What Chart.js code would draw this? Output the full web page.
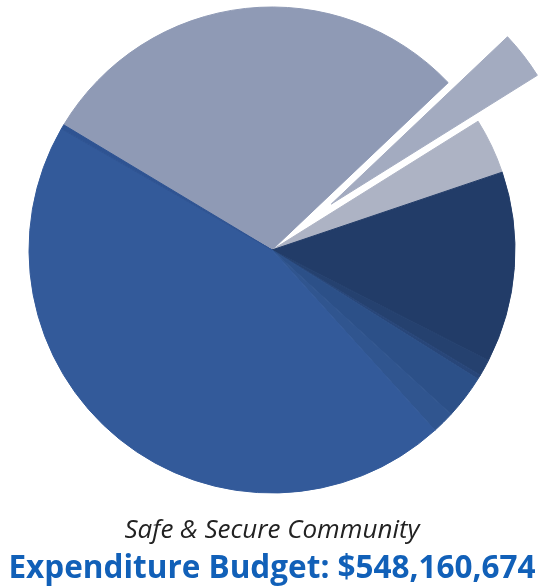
<!DOCTYPE html>
<html>
<head>
<meta charset="utf-8">
<script src="https://cdn.jsdelivr.net/npm/chart.js@4"></script>
<style>
html,body{margin:0;padding:0;background:#fff;}
#wrap{width:544px;height:586px;position:relative;}
</style>
</head>
<body>
<div id="wrap"><canvas id="c"></canvas></div>
<script>
// Slice shares (percent of budget), clockwise starting at the upper-left edge
const categories = ["Category A","Category B","Category C","Category D","Category E","Category F","Category G","Category H","Category I","Category J"];
const shares = [29.3, 3.2, 3.7, 12.7, 1.1, 0.3, 2.9, 1.5, 45.0, 0.3];
const sliceColors = ["#8f9ab5","#a3abc0","#adb3c4","#223c68","#25416f","#284679","#2c5088","#30558f","#335a9a","#2e5392"];
const subtitleText = "Safe & Secure Community";
const titleText = "Expenditure Budget: $548,160,674";

// Pulls one slice out of the pie along its own mid-angle
const explodePlugin = {
  id: 'explodeSlice',
  afterDatasetUpdate(chart, args, opts) {
    const meta = chart.getDatasetMeta(args.index);
    const arc = meta.data[opts.index];
    if (!arc) return;
    const mid = (arc.startAngle + arc.endAngle) / 2;
    arc.x += Math.cos(mid) * opts.distance;
    arc.y += Math.sin(mid) * opts.distance;
  }
};

new Chart(document.getElementById('c'), {
  type: 'pie',
  data: {
    labels: categories,
    datasets: [{
      data: shares,
      backgroundColor: sliceColors,
      borderColor: sliceColors,
      borderWidth: 1,
      hoverOffset: 0
    }]
  },
  plugins: [explodePlugin],
  options: {
    responsive: true,
    maintainAspectRatio: false,
    animation: false,
    rotation: -59,
    radius: 243,
    layout: { padding: 0 },
    plugins: {
      explodeSlice: { index: 1, distance: 75 },
      legend: { display: false },
      tooltip: { enabled: false },
      subtitle: {
        display: true,
        text: subtitleText,
        position: 'bottom',
        color: '#222222',
        font: { family: '"Open Sans"', size: 26, style: 'italic', weight: 'normal', lineHeight: 1 },
        padding: { top: 17.8, bottom: 0 }
      },
      title: {
        display: true,
        text: titleText,
        position: 'bottom',
        color: '#1160b8',
        font: { family: '"Open Sans"', size: 31.5, weight: 'bold', lineHeight: 1 },
        padding: { top: 9.2, bottom: 1.5 }
      }
    }
  }
});
</script>
</body>
</html>
